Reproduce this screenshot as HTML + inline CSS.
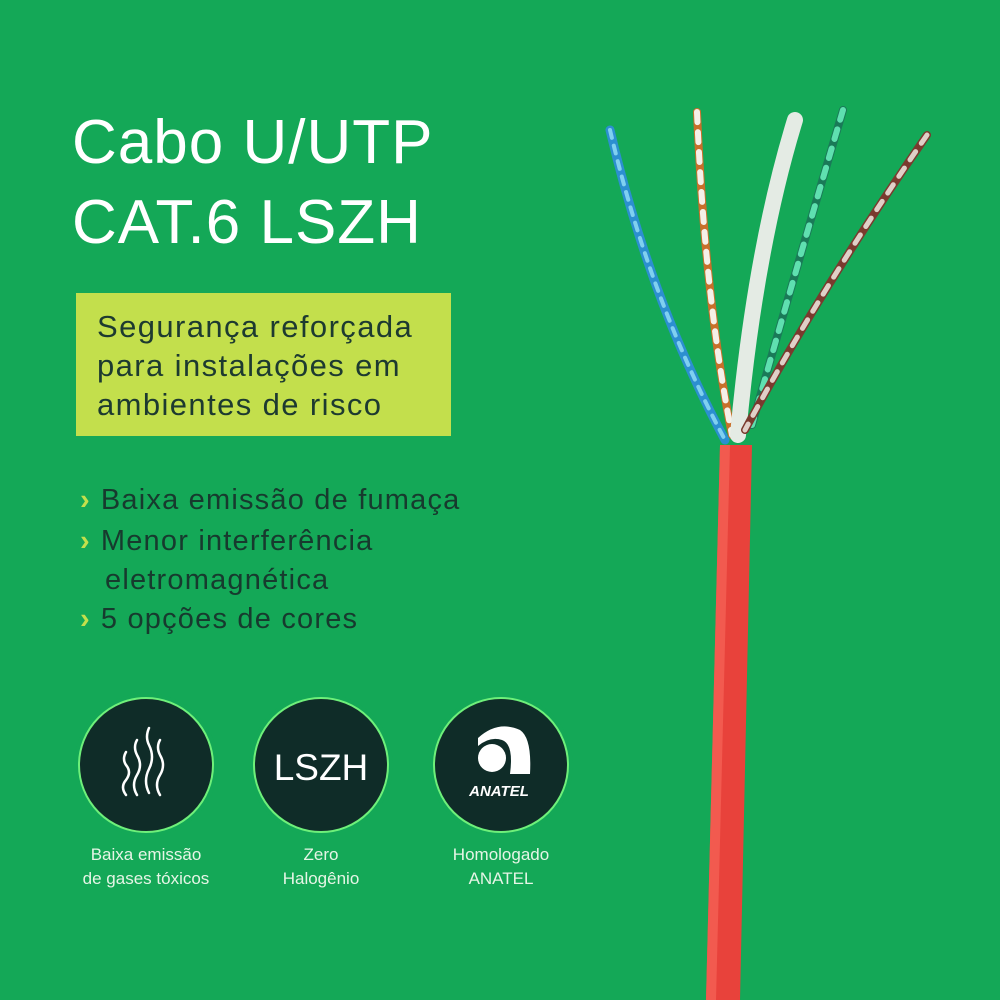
<!DOCTYPE html>
<html><head><meta charset="utf-8"><style>
body{margin:0;width:1000px;height:1000px;background:#14a857;position:relative;overflow:hidden;font-family:"Liberation Sans",sans-serif;color:#fff}
.t{position:absolute;left:72px;top:103px;font-size:62px;line-height:80px;letter-spacing:1px}
.box{position:absolute;left:76px;top:293px;width:375px;height:143px;background:#c3df4c;color:#1d3a30;font-size:31px;line-height:39px;letter-spacing:1.4px;box-sizing:border-box;padding:14px 0 0 21px;white-space:nowrap}
.li{position:absolute;left:80px;font-size:29px;color:#173a2e;letter-spacing:1.2px;white-space:nowrap}
.li b{color:#c3df4c;font-weight:bold;margin-right:10px}
.c{position:absolute;width:132px;height:132px;border-radius:50%;background:#0f2c28;border:2px solid #6ef07a;box-shadow:0 0 0 4px #14a857}
.cap{position:absolute;width:180px;text-align:center;font-size:17px;line-height:24px;color:#e6f5e6}
</style></head><body>
<div class="t">Cabo U/UTP<br>CAT.6 LSZH</div>
<div class="box">Segurança reforçada<br>para instalações em<br>ambientes de risco</div>
<div class="li" style="top:484px"><b>›</b>Baixa emissão de fumaça</div>
<div class="li" style="top:525px"><b>›</b>Menor interferência</div>
<div class="li" style="top:564px;left:105px">eletromagnética</div>
<div class="li" style="top:603px"><b>›</b>5 opções de cores</div>

<div class="c" style="left:78px;top:697px"></div>
<div class="c" style="left:253px;top:697px"></div>
<div class="c" style="left:433px;top:697px"></div>
<svg style="position:absolute;left:0;top:0" width="1000" height="1000">
<g stroke="#fff" stroke-width="2.5" fill="none" stroke-linecap="round">
<path d="M126 795 q-6-8 0-15 q6-8 0-15 q-4-6 0-13"/>
<path d="M137 795 q-6-10 0-20 q6-10 0-20 q-4-8 0-15"/>
<path d="M149 793 q-6-12 0-24 q6-12 0-24 q-4-8 0-17"/>
<path d="M160 795 q-6-10 0-20 q6-10 0-20 q-4-8 0-15"/>
</g>
<text x="321" y="780" font-size="37" fill="#fff" text-anchor="middle" font-family="Liberation Sans">LSZH</text>
<circle cx="492" cy="758" r="14" fill="#fff"/>
<path d="M478 738 q20-18 42-8 q12 8 10 44 l-20 0 q4-30-8-34 q-12-4-24 6z" fill="#fff"/>
<text x="499" y="796" font-size="15" font-weight="bold" font-style="italic" fill="#fff" text-anchor="middle" font-family="Liberation Sans">ANATEL</text>
<path d="M720 445 L752 445 L740 1000 L706 1000 Z" fill="#e8423b"/>
<path d="M720 445 L730 445 L716 1000 L706 1000 Z" fill="#f25a4f"/>
<g fill="none" stroke-linecap="round">
<path d="M610 130 Q650 300 725 440" stroke="#2c8fd0" stroke-width="9"/>
<path d="M610 130 Q650 300 725 440" stroke="#7fd0f0" stroke-width="4" stroke-dasharray="8 8"/>
<path d="M697 112 Q705 300 732 435" stroke="#c8702a" stroke-width="8"/>
<path d="M697 112 Q705 300 732 435" stroke="#f5f0e8" stroke-width="6" stroke-dasharray="10 10"/>
<path d="M795 120 Q755 250 738 435" stroke="#e4ebe4" stroke-width="16"/>
<path d="M843 110 Q790 290 752 425" stroke="#1a7a58" stroke-width="8"/>
<path d="M843 110 Q790 290 752 425" stroke="#5fe0b0" stroke-width="6" stroke-dasharray="10 10"/>
<path d="M927 135 Q820 290 745 430" stroke="#7a3a2e" stroke-width="8"/>
<path d="M927 135 Q820 290 745 430" stroke="#e0d0c8" stroke-width="5" stroke-dasharray="10 10"/>
</g>
</svg>
<div class="cap" style="left:56px;top:843px">Baixa emissão<br>de gases tóxicos</div>
<div class="cap" style="left:231px;top:843px">Zero<br>Halogênio</div>
<div class="cap" style="left:411px;top:843px">Homologado<br>ANATEL</div>
</body></html>
